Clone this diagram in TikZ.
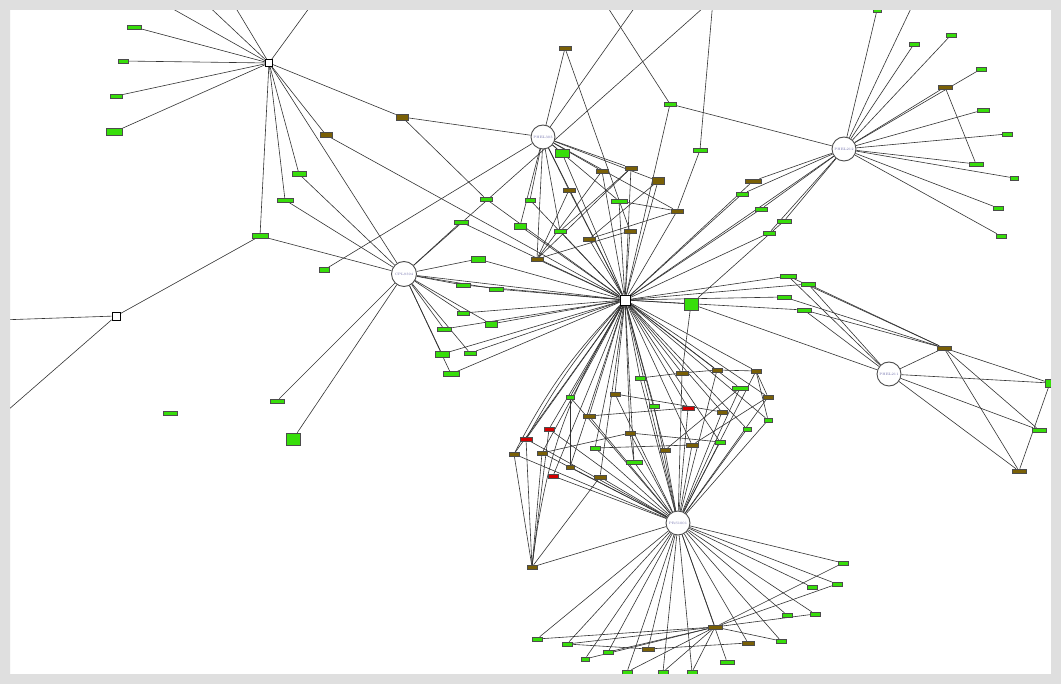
\documentclass[tikz,border=0pt]{standalone}
\usetikzlibrary{backgrounds}
\definecolor{ngreen}{RGB}{55,222,10}
\definecolor{nbrown}{RGB}{122,96,6}
\definecolor{nred}{RGB}{212,0,0}
\definecolor{framegray}{RGB}{223,223,223}
\definecolor{lblue}{RGB}{110,110,170}
\pgfdeclarelayer{edges}
\pgfdeclarelayer{front}
\pgfsetlayers{background,edges,main,front}
\tikzset{
  gn/.style 2 args={rectangle, draw=black!70, fill=ngreen, line width=0.5pt, inner sep=0pt, minimum width=#1pt, minimum height=#2pt},
  bn/.style 2 args={rectangle, draw=black!70, fill=nbrown, line width=0.5pt, inner sep=0pt, minimum width=#1pt, minimum height=#2pt},
  rn/.style 2 args={rectangle, draw=black!70, fill=nred, line width=0.5pt, inner sep=0pt, minimum width=#1pt, minimum height=#2pt},
  hubsq/.style={rectangle, draw=black, fill=white, line width=0.9pt, inner sep=0pt},
  hubc/.style={circle, draw=black!70, fill=white, line width=0.9pt, minimum size=24pt, inner sep=0pt, font=\fontsize{3.4}{4}\selectfont, text=lblue},
  lnk/.style={draw=black!80, line width=0.6pt},
}
\begin{document}
\begin{tikzpicture}[x=1pt,y=-1pt]
\useasboundingbox (0,0) rectangle (1061,684);
\begin{pgfonlayer}{background}
\fill[white] (0,0) rectangle (1061,684);
\end{pgfonlayer}
\begin{pgfonlayer}{front}
\fill[framegray, even odd rule] (0,0) rectangle (1061,684) (10,10) rectangle (1051,674);
\end{pgfonlayer}

% hubs
\node[hubsq, minimum size=10pt] (H) at (625,300) {};
\node[hubsq, minimum size=7pt] (s1) at (269,63) {};
\node[hubsq, minimum size=8pt] (s2) at (116,316) {};
\node[hubc] (P1) at (543,137) {PHEL303};
\node[hubc, minimum size=25pt] (P2) at (404,274) {CPL9394};
\node[hubc] (P3) at (844,149) {PHEL212};
\node[hubc] (P4) at (889,374) {PHEL211};
\node[hubc] (P5) at (678,523) {PRS1001};

% off-canvas ends
\coordinate (t1) at (157,0); \coordinate (t2) at (202,0); \coordinate (t3) at (231,0);
\coordinate (t4) at (315,0); \coordinate (t5) at (640,0); \coordinate (t6) at (713,0);
\coordinate (t7) at (603,0); \coordinate (t8) at (915,0); \coordinate (t9) at (712,0);
\coordinate (e1) at (0,320); \coordinate (e2) at (0,417);

% top-left
\node[gn={14}{4}] (a1) at (134,27) {};
\node[gn={10}{4}] (a2) at (123,61) {};
\node[gn={12}{4}] (a3) at (116,96) {};
\node[gn={16}{7}] (a4) at (114,132) {};
\node[bn={12}{5}] (a5) at (326,135) {};
\node[bn={12}{6}] (a6) at (402,117) {};
\node[gn={14}{5}] (a7) at (299,174) {};
\node[gn={16}{4}] (a8) at (285,200) {};
\node[gn={16}{5}] (a9) at (260,236) {};
\node[gn={10}{5}] (a10) at (324,270) {};
\node[gn={14}{4}] (a11) at (277,401) {};
\node[gn={14}{12}] (a12) at (293,439) {};
\node[gn={14}{4}] (a13) at (170,413) {};

% top centre
\node[bn={12}{4}] (c1) at (565,48) {};
\node[gn={12}{4}] (c2) at (670,104) {};
\node[gn={14}{4}] (c3) at (700,150) {};
\node[gn={14}{8}] (c4) at (562,153) {};
\node[bn={12}{4}] (c5) at (602,171) {};
\node[bn={12}{4}] (c6) at (631,168) {};
\node[bn={12}{7}] (c7) at (658,181) {};
\node[bn={12}{4}] (c8) at (569,190) {};
\node[gn={12}{4}] (c9) at (486,199) {};
\node[gn={10}{4}] (c10) at (530,200) {};
\node[gn={16}{4}] (c11) at (619,201) {};
\node[bn={12}{4}] (c12) at (677,211) {};
\node[gn={14}{4}] (c13) at (461,222) {};
\node[gn={12}{6}] (c14) at (520,226) {};
\node[gn={12}{4}] (c15) at (560,231) {};
\node[bn={12}{4}] (c16) at (630,231) {};
\node[bn={12}{4}] (c17) at (589,239) {};
\node[gn={14}{6}] (c18) at (478,259) {};
\node[bn={12}{4}] (c19) at (537,259) {};

% left of CPL
\node[gn={14}{4}] (l1) at (463,285) {};
\node[gn={14}{4}] (l2) at (496,289) {};
\node[gn={12}{4}] (l3) at (463,313) {};
\node[gn={12}{6}] (l4) at (491,324) {};
\node[gn={14}{4}] (l5) at (444,329) {};
\node[gn={14}{6}] (l6) at (442,354) {};
\node[gn={12}{4}] (l7) at (470,353) {};
\node[gn={16}{5}] (l8) at (451,374) {};

% top right
\node[gn={8}{4}] (r1) at (877,10) {};
\node[gn={10}{4}] (r2) at (914,44) {};
\node[gn={10}{4}] (r3) at (951,35) {};
\node[bn={14}{4}] (r4) at (945,87) {};
\node[gn={10}{4}] (r5) at (981,69) {};
\node[gn={12}{4}] (r6) at (983,110) {};
\node[gn={10}{4}] (r7) at (1007,134) {};
\node[gn={14}{4}] (r8) at (976,164) {};
\node[gn={8}{4}] (r9) at (1014,178) {};
\node[gn={10}{4}] (r10) at (998,208) {};
\node[gn={10}{4}] (r11) at (1001,236) {};
\node[bn={16}{4}] (r12) at (753,181) {};
\node[gn={12}{4}] (r13) at (742,194) {};
\node[gn={12}{4}] (r14) at (761,209) {};
\node[gn={14}{4}] (r15) at (784,221) {};
\node[gn={12}{4}] (r16) at (769,233) {};

% right middle
\node[gn={14}{12}] (rm1) at (691,304) {};
\node[gn={16}{4}] (rm2) at (788,276) {};
\node[gn={14}{4}] (rm3) at (808,284) {};
\node[gn={14}{4}] (rm4) at (784,297) {};
\node[gn={14}{4}] (rm5) at (804,310) {};
\node[bn={14}{4}] (rm6) at (944,348) {};
\node[gn={10}{8}] (rm7) at (1050,383) {};
\node[gn={14}{4}] (rm8) at (1039,430) {};
\node[bn={14}{4}] (rm9) at (1019,471) {};

% middle cluster
\node[gn={10}{4}] (m1) at (640,378) {};
\node[bn={12}{4}] (m2) at (682,373) {};
\node[bn={10}{4}] (m3) at (717,370) {};
\node[bn={10}{4}] (m4) at (756,371) {};
\node[gn={16}{4}] (m5) at (740,388) {};
\node[bn={10}{4}] (m6) at (768,397) {};
\node[gn={8}{4}] (m7) at (570,397) {};
\node[bn={10}{4}] (m8) at (615,394) {};
\node[gn={10}{4}] (m9) at (654,406) {};
\node[rn={12}{4}] (m10) at (688,408) {};
\node[bn={10}{4}] (m11) at (722,412) {};
\node[gn={8}{4}] (m12) at (768,420) {};
\node[bn={12}{4}] (m13) at (589,416) {};
\node[rn={10}{4}] (m14) at (549,429) {};
\node[gn={8}{4}] (m15) at (747,429) {};
\node[bn={10}{4}] (m16) at (630,433) {};
\node[rn={12}{4}] (m17) at (526,439) {};
\node[gn={10}{4}] (m18) at (720,442) {};
\node[bn={12}{4}] (m19) at (692,445) {};
\node[gn={10}{4}] (m20) at (595,448) {};
\node[bn={10}{4}] (m21) at (542,453) {};
\node[bn={10}{4}] (m22) at (514,454) {};
\node[bn={10}{4}] (m23) at (665,450) {};
\node[gn={16}{4}] (m24) at (634,462) {};
\node[bn={8}{4}] (m25) at (570,467) {};
\node[rn={10}{4}] (m26) at (553,476) {};
\node[bn={12}{4}] (m27) at (600,477) {};
\node[bn={10}{4}] (m28) at (532,567) {};

% bottom
\node[gn={10}{4}] (b1) at (843,563) {};
\node[gn={10}{4}] (b2) at (812,587) {};
\node[gn={10}{4}] (b3) at (837,584) {};
\node[gn={10}{4}] (b4) at (787,615) {};
\node[gn={10}{4}] (b5) at (815,614) {};
\node[bn={14}{4}] (b6) at (715,627) {};
\node[gn={10}{4}] (b7) at (537,639) {};
\node[gn={10}{4}] (b8) at (567,644) {};
\node[bn={12}{4}] (b9) at (648,649) {};
\node[bn={12}{4}] (b10) at (748,643) {};
\node[gn={10}{4}] (b11) at (781,641) {};
\node[gn={10}{4}] (b12) at (608,652) {};
\node[gn={8}{4}] (b13) at (585,659) {};
\node[gn={14}{4}] (b14) at (727,662) {};
\node[gn={10}{4}] (b15) at (627,672) {};
\node[gn={10}{4}] (b16) at (663,672) {};
\node[gn={10}{4}] (b17) at (692,672) {};

\begin{pgfonlayer}{edges}
\foreach \u/\v in {s1/t1,s1/t2,s1/t3,s1/t4,s1/a1,s1/a2,s1/a3,s1/a4,s1/a5,s1/a6,s1/a7,s1/a8,s1/a9,s1/P2,
  s2/e1,s2/e2,s2/a9,
  a6/P1,a6/c9,a7/P2,a8/P2,a9/P2,a10/P1,a5/H,a11/P2,a12/P2,
  P2/c18,P2/H,P2/l1,P2/l2,P2/l3,P2/l4,P2/l5,P2/l6,P2/l7,P2/l8,P2/c13,
  l1/H,l2/H,l3/H,l4/H,l5/H,l6/H,l7/H,l8/H,c18/H,P2/t9,P1/t5,
  P1/c1,P1/c4,P1/c5,P1/c6,P1/c7,P1/c10,P1/c14,P1/c15,P1/c19,P1/c12,P1/H,P1/c8,P1/c11,
  c1/c16,c2/t7,c2/P3,c2/H,c3/t6,c3/c12,c4/H,c5/c19,c5/H,c6/c19,c6/H,c6/c15,
  c7/c17,c7/H,c8/c19,c8/H,c9/H,c10/H,c11/c12,c11/H,c12/c17,c12/H,c13/H,c14/H,c15/H,
  c16/H,c16/c19,c17/H,c19/H,
  P3/r1,P3/r2,P3/r3,P3/r4,P3/r5,P3/r6,P3/r7,P3/r8,P3/r9,P3/r10,P3/r11,P3/r12,P3/r13,P3/r14,P3/r15,P3/r16,
  P3/t8,P3/H,r4/r8,r12/H,r13/H,r14/H,r16/H,r15/rm1,
  H/rm1,H/rm2,H/rm3,H/rm4,H/rm5,rm1/P4,rm1/m2,rm2/P4,rm2/rm6,rm3/P4,rm3/rm6,rm4/rm6,rm5/P4,rm5/rm6,
  P4/rm6,P4/rm7,P4/rm8,P4/rm9,rm6/rm7,rm6/rm8,rm6/rm9,rm7/rm9,
  m1/m2,m2/m3,m3/m4,m4/m6,m4/m12,m8/m11,m13/m10,m16/m18,m21/m16,m20/m19,m7/m25,m24/m16,m6/m19,m5/m23,
  m28/m22,m28/m17,m28/m21,m28/m14,m28/m27,m28/P5,H/P5,
  P5/b1,P5/b2,P5/b3,P5/b4,P5/b5,P5/b6,P5/b7,P5/b8,P5/b9,P5/b10,P5/b11,P5/b12,P5/b13,P5/b14,P5/b15,P5/b16,P5/b17,
  b6/b1,b6/b3,b6/b5,b6/b11,b6/b7,b6/b8,b6/b12,b6/b13,b6/b15,b6/b16,b6/b17,b8/b9,b9/b10}
  \draw[lnk] (\u) -- (\v);
\foreach \i in {1,...,27} {
  \draw[lnk] (H) -- (m\i);
  \draw[lnk] (m\i) -- (P5);
}
\draw[lnk] (H) to[bend right=12] (m28);
\draw[lnk] (H) to[bend right=8] (m22);
\draw[lnk] (H) to[bend right=6] (m17);
\end{pgfonlayer}
\end{tikzpicture}
\end{document}
